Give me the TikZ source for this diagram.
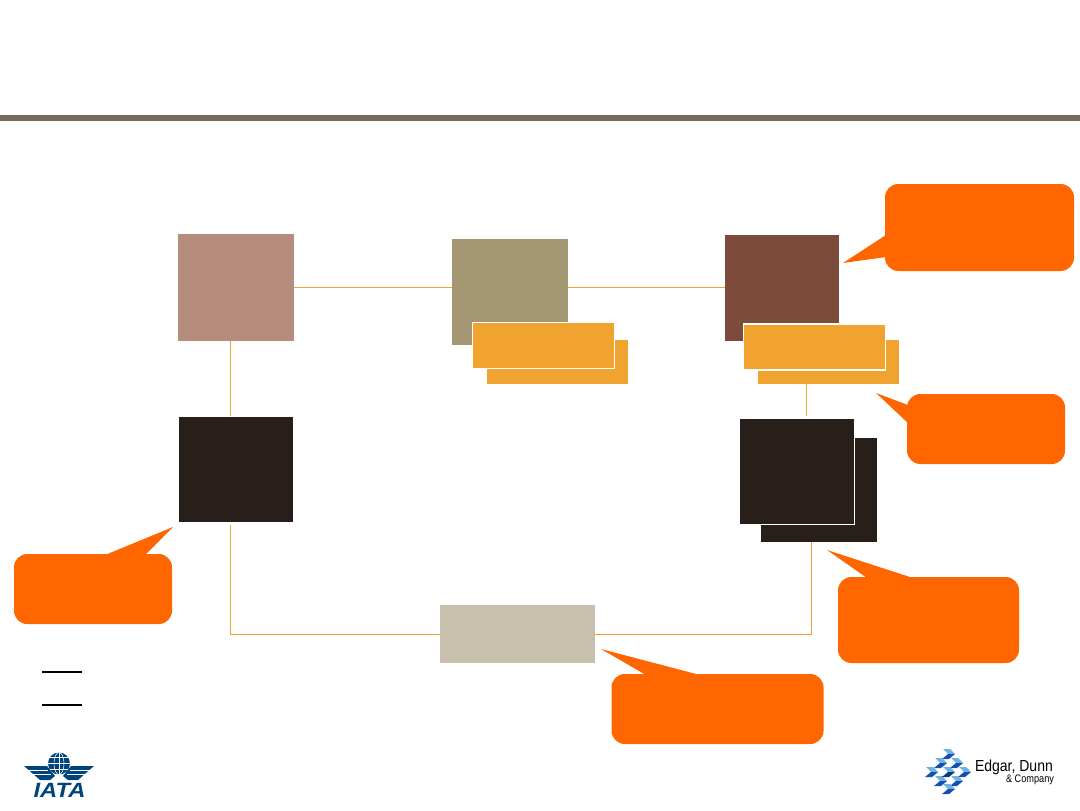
\documentclass[tikz,border=0pt]{standalone}
\usepackage{fontspec}
\setmainfont{Liberation Sans}
\definecolor{barcol}{HTML}{776B5E}
\definecolor{rosecol}{HTML}{B68C7D}
\definecolor{khakicol}{HTML}{A39773}
\definecolor{browncol}{HTML}{7D4B3B}
\definecolor{darkcol}{HTML}{281F1A}
\definecolor{sandcol}{HTML}{C8BFAC}
\definecolor{ambercol}{HTML}{F0A32E}
\definecolor{calloutcol}{HTML}{FF6600}
\definecolor{iatacol}{HTML}{00447C}
\definecolor{chevlight}{HTML}{6FB2E0}
\definecolor{chevdark}{HTML}{1450B4}
\tikzset{
  boxsize/.style 2 args={minimum width=#1*0.75pt,minimum height=#2*0.75pt,inner sep=0pt,outer sep=0pt},
  party/.style={rectangle,fill=#1},
  frontbox/.style={rectangle,fill=#1,draw=white,line width=1pt},
  callout/.style={rectangle,fill=calloutcol,rounded corners=10pt},
  link/.style={ambercol,line width=0.75pt}
}
\begin{document}
\begin{tikzpicture}[x=0.75pt,y=-0.75pt]
  \useasboundingbox (0,0) rectangle (1080,810);

  % Header bar
  \fill[barcol] (0,115) rectangle (1080,121);

  % Parties
  \node[party=rosecol,boxsize={116}{107}] (boxA) at (236,287.5) {};
  \node[party=khakicol,boxsize={116}{106}] (boxB) at (510,292) {};
  \node[party=browncol,boxsize={114}{106}] (boxC) at (782,288) {};
  \node[party=darkcol,boxsize={114}{105}] (boxD) at (236,469.5) {};
  \node[party=sandcol,boxsize={155}{58}] (boxE) at (517.5,634) {};

  % Stacked boxes, back one first
  \node[party=ambercol,boxsize={141}{44}] (amberBback) at (557.5,362) {};
  \node[frontbox=ambercol,boxsize={142}{46}] (amberB) at (543.5,345.5) {};
  \node[party=ambercol,boxsize={141}{44}] (amberCback) at (828.5,362) {};
  \node[frontbox=ambercol,boxsize={142}{46}] (amberC) at (814.5,347) {};
  \node[party=darkcol,boxsize={116}{104}] (darkback) at (819,490) {};
  \node[frontbox=darkcol,boxsize={115}{106}] (darkfront) at (797,471.5) {};

  % Connectors
  \coordinate (leftdrop) at (230.5,0);
  \coordinate (rightdrop) at (811,0);
  \coordinate (amberdrop) at (806.5,0);
  \draw[link] (boxA.east) -- (boxA.east -| boxB.west);
  \draw[link] (boxB.east |- boxA.east) -- (boxA.east -| boxC.west);
  \draw[link] (leftdrop |- boxA.south) -- ([yshift=0.75pt]leftdrop |- boxD.north);
  \draw[link] (amberdrop |- amberCback.south) -- ([yshift=2.25pt]amberdrop |- darkfront.north);
  \draw[link] ([yshift=-2.25pt]leftdrop |- boxD.south) -- (leftdrop |- boxE.west) -- (boxE.west);
  \draw[link] (boxE.east) -- (rightdrop |- boxE.east) -- (rightdrop |- darkback.south);

  % Callouts
  \node[callout,boxsize={189}{87}] (noteC) at (979.5,227.5) {};
  \fill[calloutcol] (886,235) -- (843,263) -- (886,257) -- cycle;
  \node[callout,boxsize={158}{70}] (noteAmber) at (986,429) {};
  \fill[calloutcol] (908,405) -- (876,393) -- (908,423) -- cycle;
  \node[callout,boxsize={181}{86}] (noteDark) at (928.5,620) {};
  \fill[calloutcol] (867,578) -- (827,550) -- (913,578) -- cycle;
  \node[callout,boxsize={212}{70}] (noteE) at (717.5,709) {};
  \fill[calloutcol] (646,675) -- (601,649) -- (700,675) -- cycle;
  \node[callout,boxsize={158}{70}] (noteD) at (93,589) {};
  \fill[calloutcol] (105,555) -- (173,527) -- (145,555) -- cycle;

  % Legend rules
  \coordinate (keyA) at (42,672);
  \coordinate (keyB) at (42,705);
  \draw[black,line width=0.9pt] (keyA) -- ++(40,0);
  \draw[black,line width=0.9pt] (keyB) -- ++(40,0);

  % IATA logo
  \foreach \s in {1,-1} {
    \fill[iatacol] ({59+\s*35},766) -- ({59+\s*12},766) -- ({59+\s*4},776) -- ({59+\s*9},780) -- ({59+\s*19},780) -- cycle;
    \draw[white,line width=0.5pt] ({59+\s*31},770) -- ({59+\s*11},770) ({59+\s*27},774.5) -- ({59+\s*8},774.5);
  }
  \fill[iatacol] (59,763.5) circle (11);
  \draw[white,line width=0.4pt] (48,763.5) -- (70,763.5) (50,757.5) -- (68,757.5) (50,769.5) -- (68,769.5) (59,752.5) -- (59,774.5);
  \draw[white,line width=0.4pt] (59,763.5) ellipse[x radius=5,y radius=11];
  \node[iatacol,inner sep=0pt,font=\bfseries\itshape\fontsize{15.5}{15.5}\selectfont,xscale=1.15] (iatalabel) at (59.5,790) {IATA};

  % Edgar Dunn logo
  \foreach \cx/\cy in {949/754,941/763,957/763,932/772,965/772,941/781,957/781,949/789} {
    \fill[chevlight] (\cx-6,\cy-5) -- (\cx+1,\cy-5) -- (\cx+6,\cy) -- (\cx-1,\cy) -- cycle;
    \fill[chevdark] (\cx-1,\cy) -- (\cx+6,\cy) -- (\cx+0,\cy+5) -- (\cx-7,\cy+5) -- cycle;
  }
  \fill[chevlight] (943,767) -- (950,767) -- (955,772) -- (948,772) -- cycle;
  \fill[chevdark!70!black] (948,772) -- (955,772) -- (949,777) -- (942,777) -- cycle;
  \node[anchor=west,inner sep=0pt,font=\fontsize{12}{12}\selectfont,xscale=0.875,outer sep=0pt] (edgarlabel) at (975,767.5) {Edgar, Dunn};
  \node[anchor=east,inner sep=0pt,font=\fontsize{8.2}{8.2}\selectfont,xscale=0.84,outer sep=0pt] (companylabel) at (1054,779.5) {\& Company};
\end{tikzpicture}
\end{document}
